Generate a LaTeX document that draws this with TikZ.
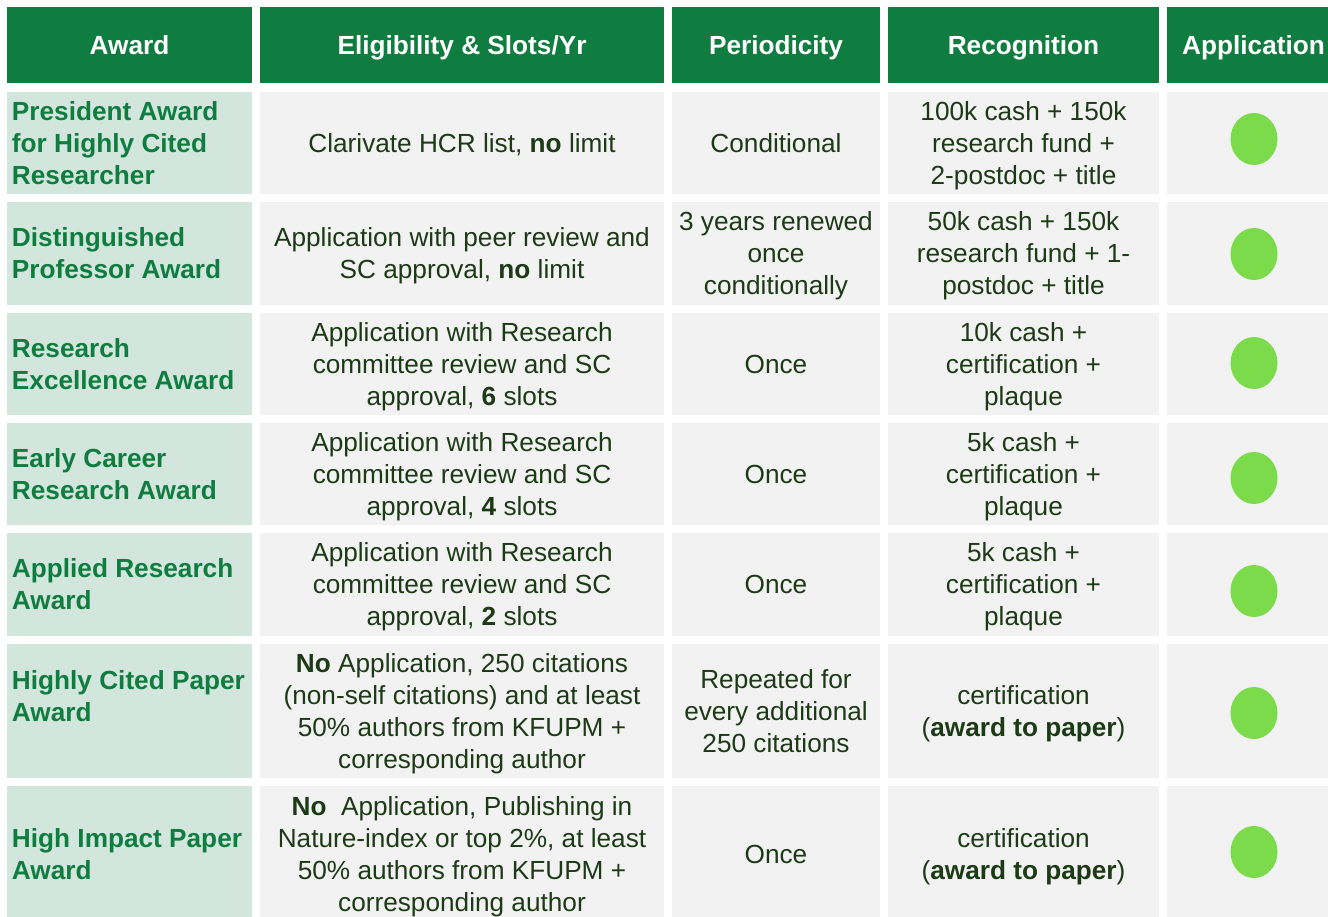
\documentclass[tikz,border=0pt]{standalone}
\usepackage{fontspec}
\setmainfont{Liberation Sans}
\usetikzlibrary{shapes.geometric}
\definecolor{hdr}{HTML}{0F7D40}
\definecolor{awbg}{HTML}{D2E6DD}
\definecolor{cellbg}{HTML}{F2F2F2}
\definecolor{txt}{HTML}{1D3A17}
\definecolor{dotc}{HTML}{7CDB4A}
\definecolor{awtxt}{HTML}{0F7D40}
\newcommand\sst{\rule[-6pt]{0pt}{30.4pt}}
\begin{document}
\begin{tikzpicture}[x=1pt,y=-1pt,
  base/.style={rectangle, inner sep=0pt, anchor=center,
    font=\fontsize{26.2}{32}\selectfont,
    execute at begin node=\sst, execute at end node=\sst},
  hcell/.style={base, fill=hdr, text=white, font=\fontsize{26.2}{32}\selectfont\bfseries,
    minimum height=76pt},
  acell/.style={base, fill=awbg},
  atext/.style={base, anchor=west, text=awtxt, font=\fontsize{26.2}{32}\selectfont\bfseries, align=left},
  gcell/.style={base, fill=cellbg, text=txt, align=center},
  dotn/.style={ellipse, fill=dotc, minimum width=47pt, minimum height=52pt, inner sep=0pt},
  wA/.style={minimum width=245pt},
  wB/.style={minimum width=404pt},
  wC/.style={minimum width=208pt},
  wD/.style={minimum width=271pt},
  wE/.style={minimum width=173pt},
]
\useasboundingbox (0,0) rectangle (1328,917);
\fill[white] (0,0) rectangle (1328,917);
% header
\node[hcell, wA] (h1) at (129.5,45) {Award};
\node[hcell, wB] (h2) at (462,45) {Eligibility \& Slots/Yr};
\node[hcell, wC] (h3) at (776,45) {Periodicity};
\node[hcell, wD] (h4) at (1023.5,45) {Recognition};
\node[hcell, wE] (h5) at (1253.5,45) {Application};
% row 1
\node[acell, wA, minimum height=102pt] (a1) at (129.5,143) {};
\node[atext] (t1) at ([xshift=5pt]a1.west) {\sst President Award\\for Highly Cited\\Researcher\sst};
\node[gcell, wB, minimum height=102pt] (b1) at (462,143) {Clarivate HCR list, \textbf{no} limit};
\node[gcell, wC, minimum height=102pt] (c1) at (776,143) {Conditional};
\node[gcell, wD, minimum height=102pt] (d1) at (1023.5,143) {\sst 100k cash + 150k\\research fund +\\2-postdoc + title\sst};
\node[gcell, wE, minimum height=102pt] (e1) at (1253.5,143) {};
\node[dotn] (p1) at (1254,139) {};
% row 2
\node[acell, wA, minimum height=103pt] (a2) at (129.5,253.5) {};
\node[atext] (t2) at ([xshift=5pt]a2.west) {\sst Distinguished\\Professor Award\sst};
\node[gcell, wB, minimum height=103pt] (b2) at (462,253.5) {\sst Application with peer review and\\SC approval, \textbf{no} limit\sst};
\node[gcell, wC, minimum height=103pt] (c2) at (776,253.5) {\sst 3 years renewed\\once\\conditionally\sst};
\node[gcell, wD, minimum height=103pt] (d2) at (1023.5,253.5) {\sst 50k cash + 150k\\research fund + 1-\\postdoc + title\sst};
\node[gcell, wE, minimum height=103pt] (e2) at (1253.5,253.5) {};
\node[dotn] (p2) at (1254,254) {};
% row 3
\node[acell, wA, minimum height=102pt] (a3) at (129.5,364) {};
\node[atext] (t3) at ([xshift=5pt]a3.west) {\sst Research\\Excellence Award\sst};
\node[gcell, wB, minimum height=102pt] (b3) at (462,364) {\sst Application with Research\\committee review and SC\\approval, \textbf{6} slots\sst};
\node[gcell, wC, minimum height=102pt] (c3) at (776,364) {Once};
\node[gcell, wD, minimum height=102pt] (d3) at (1023.5,364) {\sst 10k cash +\\certification +\\plaque\sst};
\node[gcell, wE, minimum height=102pt] (e3) at (1253.5,364) {};
\node[dotn] (p3) at (1254,363) {};
% row 4
\node[acell, wA, minimum height=102pt] (a4) at (129.5,474) {};
\node[atext] (t4) at ([xshift=5pt]a4.west) {\sst Early Career\\Research Award\sst};
\node[gcell, wB, minimum height=102pt] (b4) at (462,474) {\sst Application with Research\\committee review and SC\\approval, \textbf{4} slots\sst};
\node[gcell, wC, minimum height=102pt] (c4) at (776,474) {Once};
\node[gcell, wD, minimum height=102pt] (d4) at (1023.5,474) {\sst 5k cash +\\certification +\\plaque\sst};
\node[gcell, wE, minimum height=102pt] (e4) at (1253.5,474) {};
\node[dotn] (p4) at (1254,478) {};
% row 5
\node[acell, wA, minimum height=103pt] (a5) at (129.5,584.5) {};
\node[atext] (t5) at ([xshift=5pt]a5.west) {\sst Applied Research\\Award\sst};
\node[gcell, wB, minimum height=103pt] (b5) at (462,584.5) {\sst Application with Research\\committee review and SC\\approval, \textbf{2} slots\sst};
\node[gcell, wC, minimum height=103pt] (c5) at (776,584.5) {Once};
\node[gcell, wD, minimum height=103pt] (d5) at (1023.5,584.5) {\sst 5k cash +\\certification +\\plaque\sst};
\node[gcell, wE, minimum height=103pt] (e5) at (1253.5,584.5) {};
\node[dotn] (p5) at (1254,591) {};
% row 6
\node[acell, wA, minimum height=134pt] (a6) at (129.5,711) {};
\node[atext] (t6) at ([xshift=5pt,yshift=15pt]a6.west) {\sst Highly Cited Paper\\Award\sst};
\node[gcell, wB, minimum height=134pt] (b6) at (462,711) {\sst\textbf{No} Application, 250 citations\\(non-self citations) and at least\\50\% authors from KFUPM +\\corresponding author\sst};
\node[gcell, wC, minimum height=134pt] (c6) at (776,711) {\sst Repeated for\\every additional\\250 citations\sst};
\node[gcell, wD, minimum height=134pt] (d6) at (1023.5,711) {\sst certification\\(\textbf{award to paper})\sst};
\node[gcell, wE, minimum height=134pt] (e6) at (1253.5,711) {};
\node[dotn] (p6) at (1254,713) {};
% row 7
\node[acell, wA, minimum height=136pt] (a7) at (129.5,854) {};
\node[atext] (t7) at ([xshift=5pt]a7.west) {\sst High Impact Paper\\Award\sst};
\node[gcell, wB, minimum height=136pt] (b7) at (462,854) {\sst\textbf{No}\ \ Application, Publishing in\\Nature-index or top 2\%, at least\\50\% authors from KFUPM +\\corresponding author\sst};
\node[gcell, wC, minimum height=136pt] (c7) at (776,854) {Once};
\node[gcell, wD, minimum height=136pt] (d7) at (1023.5,854) {\sst certification\\(\textbf{award to paper})\sst};
\node[gcell, wE, minimum height=136pt] (e7) at (1253.5,854) {};
\node[dotn] (p7) at (1254,852) {};
\end{tikzpicture}
\end{document}
